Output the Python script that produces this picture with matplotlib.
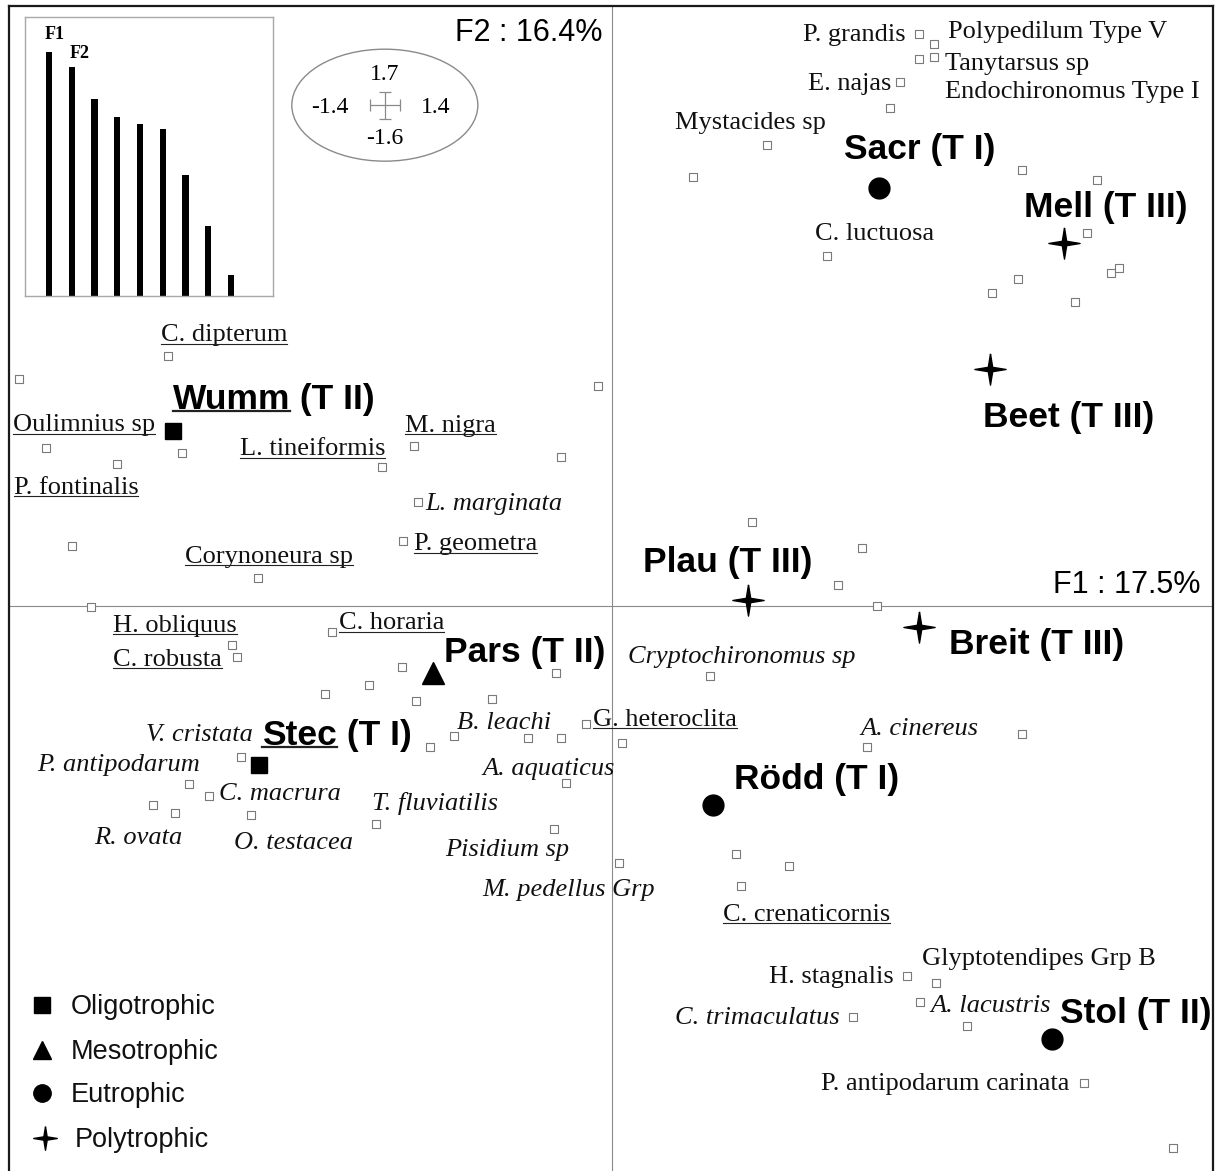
import matplotlib
matplotlib.use('Agg')
import matplotlib.pyplot as plt
from matplotlib.patches import Ellipse
from matplotlib.lines import Line2D

SERIF = ['Liberation Serif', 'DejaVu Serif']
SANS = ['Liberation Sans', 'DejaVu Sans']

# ---------------- data ----------------
# eigenvalue histogram (% of inertia per axis)
eig_pct = [17.5, 16.4, 14.1, 12.8, 12.3, 12.0, 8.7, 5.0, 1.5]
axis_pct = {'F1': 17.5, 'F2': 16.4}

# sites (F1, F2 scores)
site_names = ['Wumm', 'Stec', 'Pars', 'Sacr', 'Rödd', 'Stol', 'Mell', 'Beet', 'Plau', 'Breit']
site_type = ['T II', 'T I', 'T II', 'T I', 'T I', 'T II', 'T III', 'T III', 'T III', 'T III']
site_status = ['Oligotrophic', 'Oligotrophic', 'Mesotrophic', 'Eutrophic', 'Eutrophic',
               'Eutrophic', 'Polytrophic', 'Polytrophic', 'Polytrophic', 'Polytrophic']
site_f1 = [-1.021, -0.821, -0.416, 0.621, 0.235, 1.023, 1.051, 0.879, 0.316, 0.714]
site_f2 = [0.496, -0.450, -0.190, 1.184, -0.564, -1.227, 1.029, 0.672, 0.017, -0.060]
site_underlined = [True, True, False, False, False, False, False, False, False, False]

# species (F1, F2 scores)
species_f1 = [0.714, 0.749, 0.714, 0.749, 0.670, 0.647, 0.360, 0.188, 0.953, 1.128,
              1.105, 0.500, 1.160, 1.179, 0.944, 0.884, 1.077, -1.033, -1.379, -0.033,
              -1.316, -1.000, -1.151, -0.535, -0.460, -0.119, -0.451, -0.486, -1.256, -0.823,
              -1.212, -0.651, -0.884, -0.872, -0.488, -0.565, -0.667, -0.456, -0.279, -0.130,
              -0.367, -0.423, -0.195, -0.119, -0.060, 0.023, -0.863, -0.984, -0.937, -0.107,
              -1.067, -1.016, -0.840, -0.549, -0.135, 0.016, 0.616, 0.228, 0.593, 0.953,
              0.288, 0.412, 0.300, 0.326, 0.581, 0.526, 0.686, 0.753, 0.716, 0.560,
              0.826, 1.098, 1.305]
species_f2 = [1.621, 1.592, 1.550, 1.555, 1.485, 1.411, 1.306, 1.215, 1.235, 1.207,
              1.057, 0.992, 0.943, 0.958, 0.926, 0.887, 0.861, 0.708, 0.643, 0.623,
              0.448, 0.433, 0.402, 0.394, 0.453, 0.422, 0.295, 0.184, 0.170, 0.079,
              -0.003, -0.074, -0.111, -0.145, -0.173, -0.224, -0.249, -0.269, -0.263, -0.190,
              -0.368, -0.400, -0.374, -0.374, -0.334, -0.388, -0.428, -0.504, -0.538, -0.501,
              -0.564, -0.586, -0.592, -0.618, -0.632, -0.728, 0.000, -0.198, -0.400, -0.363,
              -0.703, -0.737, -0.793, 0.238, 0.164, 0.060, -1.048, -1.068, -1.122, -1.164,
              -1.190, -1.351, -1.536]

# species labels: text, x, y, horizontal alignment, style ('n' upright, 'i' italic), underlined
species_labels = [
    ('P. grandis', 0.684, 1.623, 'right', 'n', False),
    ('Polypedilum Type V', 0.781, 1.632, 'left', 'n', False),
    ('Tanytarsus sp', 0.774, 1.541, 'left', 'n', False),
    ('Endochironomus Type I', 0.774, 1.462, 'left', 'n', False),
    ('E. najas', 0.649, 1.485, 'right', 'n', False),
    ('Mystacides sp', 0.323, 1.374, 'center', 'n', False),
    ('C. luctuosa', 0.610, 1.060, 'center', 'n', False),
    ('Glyptotendipes Grp B', 0.721, -0.994, 'left', 'n', False),
    ('H. stagnalis', 0.656, -1.045, 'right', 'n', False),
    ('P. antipodarum carinata', 1.065, -1.349, 'right', 'n', False),
    ('C. dipterum', -1.049, 0.773, 'left', 'n', True),
    ('Oulimnius sp', -1.393, 0.518, 'left', 'n', True),
    ('L. tineiformis', -0.865, 0.450, 'left', 'n', True),
    ('M. nigra', -0.481, 0.516, 'left', 'n', True),
    ('P. fontinalis', -1.391, 0.340, 'left', 'n', True),
    ('P. geometra', -0.460, 0.181, 'left', 'n', True),
    ('Corynoneura sp', -0.993, 0.145, 'left', 'n', True),
    ('H. obliquus', -1.160, -0.051, 'left', 'n', True),
    ('C. horaria', -0.635, -0.043, 'left', 'n', True),
    ('C. robusta', -1.160, -0.147, 'left', 'n', True),
    ('G. heteroclita', -0.044, -0.317, 'left', 'n', True),
    ('C. crenaticornis', 0.258, -0.870, 'left', 'n', True),
    ('L. marginata', -0.433, 0.295, 'left', 'i', False),
    ('B. leachi', -0.360, -0.326, 'left', 'i', False),
    ('V. cristata', -0.835, -0.360, 'right', 'i', False),
    ('P. antipodarum', -0.958, -0.445, 'right', 'i', False),
    ('A. aquaticus', 0.007, -0.456, 'right', 'i', False),
    ('C. macrura', -0.914, -0.527, 'left', 'i', False),
    ('T. fluviatilis', -0.558, -0.555, 'left', 'i', False),
    ('R. ovata', -1.205, -0.652, 'left', 'i', False),
    ('O. testacea', -0.879, -0.666, 'left', 'i', False),
    ('Pisidium sp', -0.388, -0.686, 'left', 'i', False),
    ('M. pedellus Grp', -0.302, -0.799, 'left', 'i', False),
    ('Cryptochironomus sp', 0.037, -0.139, 'left', 'i', False),
    ('A. cinereus', 0.579, -0.343, 'left', 'i', False),
    ('A. lacustris', 0.740, -1.128, 'left', 'i', False),
    ('C. trimaculatus', 0.530, -1.162, 'right', 'i', False),
]

# site label anchor (left edge, vertical centre)
site_label_x = [-1.021, -0.814, -0.391, 0.540, 0.284, 1.042, 0.958, 0.863, 0.072, 0.784]
site_label_y = [0.592, -0.360, -0.125, 1.300, -0.487, -1.150, 1.136, 0.541, 0.130, -0.102]

status_order = ['Oligotrophic', 'Mesotrophic', 'Eutrophic', 'Polytrophic']

# scale box (axis limits)
scale_f1 = (-1.4, 1.4)
scale_f2 = (-1.6, 1.7)

# ---------------- styles ----------------
TEXT_DY = -0.006   # small vertical nudge for labels
star = [(0, 1), (0.14, 0.14), (1, 0), (0.14, -0.14), (0, -1), (-0.14, -0.14),
        (-1, 0), (-0.14, 0.14), (0, 1)]
marker_of = {'Oligotrophic': ('s', 11.5), 'Mesotrophic': ('^', 16),
             'Eutrophic': ('o', 15), 'Polytrophic': (star, 22.5)}
legend_marker = {'Oligotrophic': ('s', 11.5), 'Mesotrophic': ('^', 13),
                 'Eutrophic': ('o', 12.5), 'Polytrophic': (star, 17)}

W, H = 1216, 1171
fig = plt.figure(figsize=(W / 100, H / 100), dpi=100)
ax = fig.add_axes([9 / W, 0, 1204 / W, 1165 / H])
ax.set_xlim(-1.402, 1.398)
ax.set_ylim(-1.601, 1.700)
ax.set_xticks([])
ax.set_yticks([])
for s in ['left', 'top', 'right']:
    ax.spines[s].set_linewidth(1.6)
    ax.spines[s].set_color('#1a1a1a')
ax.spines['bottom'].set_visible(False)

ax.axhline(0, color='#8a8a8a', lw=0.8, zorder=1)
ax.axvline(0, color='#8a8a8a', lw=0.8, zorder=1)

# species points
ax.scatter(species_f1, species_f2, marker='s', s=5.8 ** 2, facecolor='white',
           edgecolor='#7a7a7a', linewidth=0.8, zorder=3)

underlines = []

for (txt, x, y, ha, st, ul) in species_labels:
    t = ax.text(x, y + TEXT_DY, txt, ha=ha, va='center', fontsize=19, family=SERIF,
                style='italic' if st == 'i' else 'normal', color='#111111', zorder=4)
    if ul:
        underlines.append((t, 0.10, 0.8))

# sites
for name, ty, stt, x, y, lx, ly, ul in zip(site_names, site_type, site_status, site_f1,
                                           site_f2, site_label_x, site_label_y, site_underlined):
    m, ms = marker_of[stt]
    ax.plot([x], [y], linestyle='none', marker=m, markersize=ms, color='black', zorder=5)
    if ul:
        t1 = ax.text(lx, ly + TEXT_DY, name, ha='left', va='center', fontsize=25.5,
                     family=SANS, weight='bold', zorder=6)
        ax.annotate(' (' + ty + ')', xy=(1, 0.5), xycoords=t1, ha='left', va='center',
                    fontsize=25.5, family=SANS, weight='bold', zorder=6)
        underlines.append((t1, 0.12, 1.6))
    else:
        ax.text(lx, ly + TEXT_DY, f'{name} ({ty})', ha='left', va='center', fontsize=25.5,
                family=SANS, weight='bold', zorder=6)

# axis labels
ax.text(-0.021, 1.629 + TEXT_DY, f"F2 : {axis_pct['F2']}%", ha='right', va='center',
        fontsize=22, family=SANS)
ax.text(1.370, 0.065 + TEXT_DY, f"F1 : {axis_pct['F1']}%", ha='right', va='center',
        fontsize=22, family=SANS)

# scale ellipse
ax.add_patch(Ellipse((-0.528, 1.419), 0.4326, 0.3173, facecolor='none',
                     edgecolor='#8a8a8a', lw=1.0, zorder=2))
ax.errorbar([-0.528], [1.419], xerr=[0.035], yerr=[0.038], fmt='none', ecolor='#8a8a8a',
            elinewidth=0.9, capsize=4, capthick=0.9, zorder=2)
ax.text(-0.528, 1.506, f'{scale_f2[1]}', ha='center', va='center', fontsize=17, family=SERIF)
ax.text(-0.528, 1.325, f'{scale_f2[0]}', ha='center', va='center', fontsize=17, family=SERIF)
ax.text(-0.656, 1.413, f'{scale_f1[0]}', ha='center', va='center', fontsize=17, family=SERIF)
ax.text(-0.410, 1.413, f'{scale_f1[1]}', ha='center', va='center', fontsize=17, family=SERIF)

# legend
leg_y = [-1.130, -1.258, -1.380, -1.507]
for stt, y in zip(status_order, leg_y):
    m, ms = legend_marker[stt]
    mx = -1.326 if stt != 'Polytrophic' else -1.319
    tx = -1.258 if stt != 'Polytrophic' else -1.249
    ax.plot([mx], [y], linestyle='none', marker=m, markersize=ms, color='black', zorder=5)
    ax.text(tx, y + TEXT_DY, stt, ha='left', va='center', fontsize=19.5, family=SANS,
            color='#111111')

# eigenvalue inset
axin = fig.add_axes([24.5 / W, 1 - 296 / H, 248.5 / W, 279 / H])
axin.bar(range(len(eig_pct)), eig_pct, width=0.264, color='black')
axin.set_xlim(-1.077, 9.846)
axin.set_ylim(0, 20.0)
axin.set_xticks([])
axin.set_yticks([])
for s in axin.spines.values():
    s.set_color('#a8a8a8')
    s.set_linewidth(1.0)
axin.text(0.26, 18.71, 'F1', ha='center', va='center', fontsize=13, family=SERIF,
          weight='bold')
axin.text(1.36, 17.35, 'F2', ha='center', va='center', fontsize=13, family=SERIF,
          weight='bold')

# underlines
fig.canvas.draw()
r = fig.canvas.get_renderer()
inv = fig.transFigure.inverted()
for t, frac, lw in underlines:
    bb = t.get_window_extent(r)
    em = t.get_fontsize() * fig.dpi / 72
    yy = bb.y0 + frac * em
    (fx0, fy), (fx1, _) = inv.transform([(bb.x0, yy), (bb.x1, yy)])
    fig.add_artist(Line2D([fx0, fx1], [fy, fy], transform=fig.transFigure,
                          color='#222222', lw=lw))

fig.savefig('out.png', dpi=100, facecolor='white')
